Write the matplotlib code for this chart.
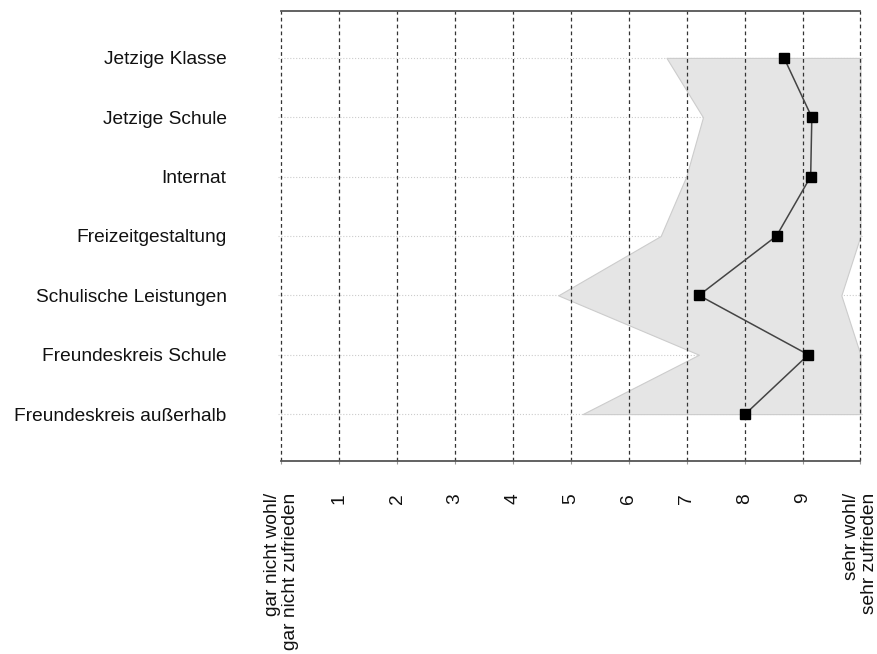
import matplotlib.pyplot as plt
import numpy as np

plt.rcParams['font.family'] = ['Liberation Sans', 'DejaVu Sans']

# Bereiche (oben nach unten)
categories = ['Jetzige Klasse', 'Jetzige Schule', 'Internat', 'Freizeitgestaltung',
              'Schulische Leistungen', 'Freundeskreis Schule', 'Freundeskreis außerhalb']
means = [8.68, 9.16, 9.14, 8.55, 7.21, 9.10, 8.01]
lower = [6.65, 7.28, 6.99, 6.55, 4.78, 7.21, 5.20]
upper = [10.0, 10.0, 10.0, 10.0, 9.67, 10.0, 10.0]

xticks = list(range(11))
xlabels = ['gar nicht wohl/\ngar nicht zufrieden', '1', '2', '3', '4', '5', '6', '7', '8', '9',
           'sehr wohl/\nsehr zufrieden']

ypos = np.arange(1, len(categories) + 1)

fig = plt.figure(figsize=(8.77, 6.54), dpi=100)
ax = fig.add_axes([0.3170, 0.2951, 0.6681, 0.6881])

# Streuungsband
ax.fill_betweenx(ypos, lower, upper, facecolor='#e5e5e5', edgecolor='#cccccc', linewidth=0.8, zorder=1)

# Gitter
for y in ypos:
    ax.axhline(y, color='#cccccc', linestyle=':', linewidth=0.8, zorder=0.5)
for x in xticks:
    ax.axvline(x, color='#333333', linestyle=(0, (3, 2.5)), linewidth=0.9, zorder=2)

# Mittelwerte
ax.plot(means, ypos, color='#444444', linewidth=1.1, zorder=3)
ax.plot(means, ypos, linestyle='none', marker='s', markersize=7.5, color='black', zorder=4)

ax.set_xlim(-0.06, 10.06)
ax.set_ylim(7.79, 0.21)

for side in ['left', 'right']:
    ax.spines[side].set_visible(False)
for side in ['top', 'bottom']:
    ax.spines[side].set_bounds(0, 10)
    ax.spines[side].set_color('#555555')
    ax.spines[side].set_linewidth(1.3)

ax.set_yticks(ypos)
ax.set_yticklabels(categories, fontsize=13.8, color='#111111')
ax.tick_params(axis='y', length=0, pad=37)

ax.set_xticks(xticks)
ax.set_xticklabels(xlabels, rotation=90, fontsize=13.8, va='top', ha='center', multialignment='right',
                   color='#111111', linespacing=1.12)
ax.tick_params(axis='x', length=4, color='#999999', direction='inout', pad=21)

plt.savefig('out.png', dpi=100)
